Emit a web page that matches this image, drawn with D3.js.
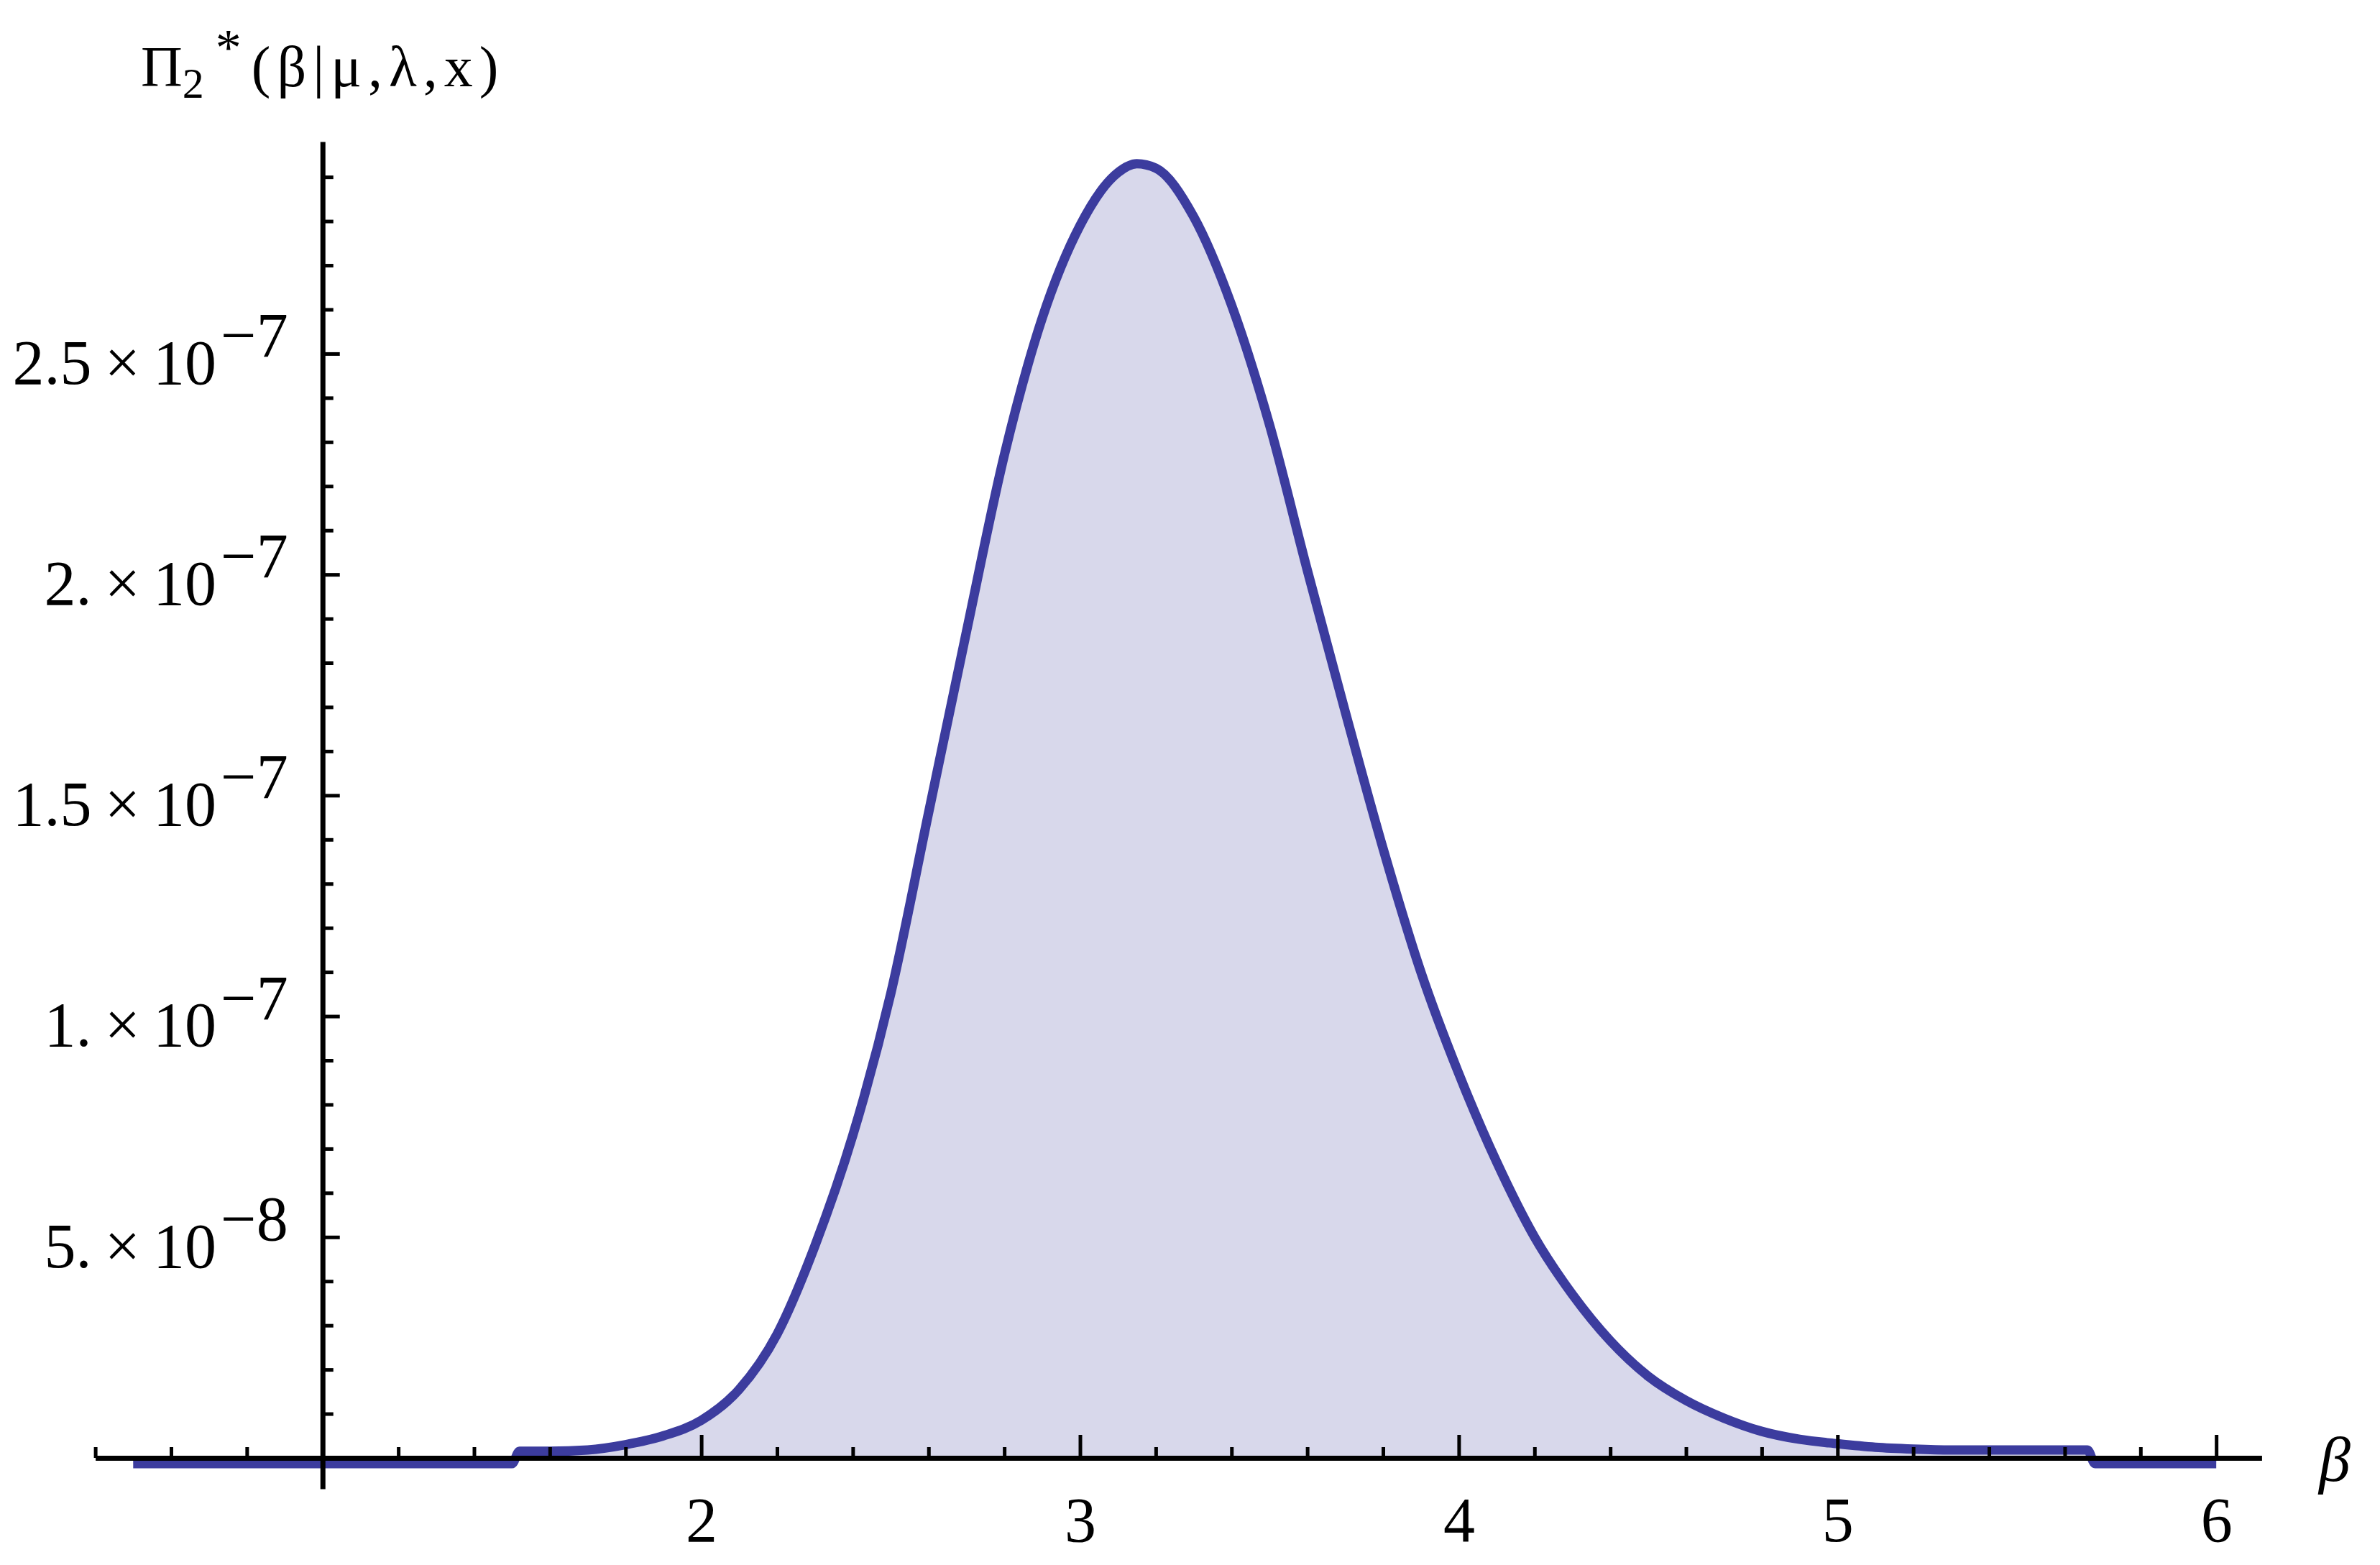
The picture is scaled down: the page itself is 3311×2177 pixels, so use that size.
<!DOCTYPE html>
<html>
<head>
<meta charset="utf-8">
<script src="https://cdn.jsdelivr.net/npm/d3@7"></script>
<style>
  html, body { margin: 0; padding: 0; background: #fff; }
  svg { display: block; }
  text { font-family: "Liberation Serif", "Times New Roman", serif; fill: #000; }
</style>
</head>
<body>
<svg id="chart" width="3311" height="2177"></svg>
<script>
// beta values and posterior density
var betas = [0.5, 0.6, 0.7, 0.8, 0.9, 1.0, 1.1, 1.2, 1.3, 1.4, 1.5, 1.52, 1.6, 1.7, 1.8, 1.9,
  2.0, 2.1, 2.2, 2.3, 2.4, 2.5, 2.6, 2.7, 2.8, 2.9, 3.0, 3.1, 3.15, 3.2, 3.3, 3.4, 3.5,
  3.6, 3.7, 3.8, 3.9, 4.0, 4.1, 4.2, 4.3, 4.4, 4.5, 4.6, 4.7, 4.8, 4.9, 5.0, 5.1, 5.2,
  5.3, 5.4, 5.5, 5.6, 5.66, 5.68, 5.8, 5.9, 6.0];
var density = [-1.3e-9, -1.3e-9, -1.3e-9, -1.3e-9, -1.3e-9, -1.3e-9, -1.3e-9, -1.3e-9, -1.3e-9, -1.3e-9, -1.3e-9, 1.5e-9, 1.5e-9, 1.8e-9, 3.0e-9, 5.0e-9,
  8.5e-9, 1.55e-8, 2.8e-8, 4.8e-8, 7.3e-8, 1.05e-7, 1.46e-7, 1.87e-7, 2.27e-7, 2.58e-7, 2.79e-7, 2.91e-7, 2.93e-7, 2.92e-7, 2.81e-7, 2.61e-7, 2.34e-7,
  2.01e-7, 1.69e-7, 1.38e-7, 1.10e-7, 8.7e-8, 6.7e-8, 5.0e-8, 3.7e-8, 2.65e-8, 1.85e-8, 1.3e-8, 9e-9, 6e-9, 4.2e-9, 3.2e-9, 2.4e-9, 2.0e-9,
  1.8e-9, 1.8e-9, 1.8e-9, 1.8e-9, 1.8e-9, -1.3e-9, -1.3e-9, -1.3e-9, -1.3e-9];

var xMajor = [2, 3, 4, 5, 6];
var xMinor = [0.4, 0.6, 0.8, 1.2, 1.4, 1.6, 1.8, 2.2, 2.4, 2.6, 2.8, 3.2, 3.4, 3.6, 3.8,
  4.2, 4.4, 4.6, 4.8, 5.2, 5.4, 5.6, 5.8];
var xLabels = ["2", "3", "4", "5", "6"];

var yMajor = [5e-8, 1e-7, 1.5e-7, 2e-7, 2.5e-7];
var yMinor = [1e-8, 2e-8, 3e-8, 4e-8, 6e-8, 7e-8, 8e-8, 9e-8, 1.1e-7, 1.2e-7, 1.3e-7, 1.4e-7,
  1.6e-7, 1.7e-7, 1.8e-7, 1.9e-7, 2.1e-7, 2.2e-7, 2.3e-7, 2.4e-7, 2.6e-7, 2.7e-7, 2.8e-7, 2.9e-7];
var yMantissa = ["5.", "1.", "1.5", "2.", "2.5"];
var yExponent = ["\u22128", "\u22127", "\u22127", "\u22127", "\u22127"];

var data = betas.map((b, i) => ({beta: b, p: density[i]}));

var svg = d3.select("#chart");
var fontSize = 88;

var x = d3.scaleLinear().domain([0.4, 6.12]).range([132.6, 3146.4]);
var y = d3.scaleLinear().domain([-7e-9, 2.98e-7]).range([2071, 197]);

var curveColor = "#3c3c9e";

// filled area down to the axis
var area = d3.area()
  .curve(d3.curveMonotoneX)
  .x(d => x(d.beta))
  .y0(y(0))
  .y1(d => y(d.p));

var line = d3.line()
  .curve(d3.curveMonotoneX)
  .x(d => x(d.beta))
  .y(d => y(d.p));

svg.append("path")
  .datum(data)
  .attr("d", area)
  .attr("fill", "#d8d8eb");

svg.append("path")
  .datum(data)
  .attr("d", line)
  .attr("fill", "none")
  .attr("stroke", curveColor)
  .attr("stroke-width", 13)
  .attr("stroke-linejoin", "round");

// x axis: minor ticks then major ticks with labels
var xMinorAxis = svg.append("g")
  .attr("transform", "translate(0," + y(0) + ")")
  .call(d3.axisBottom(x).tickValues(xMinor).tickFormat("").tickSizeInner(-15).tickSizeOuter(0));
xMinorAxis.select(".domain").remove();

var xAxis = svg.append("g")
  .attr("transform", "translate(0," + y(0) + ")")
  .call(d3.axisBottom(x).tickValues(xMajor).tickFormat((d, i) => xLabels[i])
    .tickSizeInner(-32).tickSizeOuter(0).tickPadding(54));

// y axis at beta = 1
var yMinorAxis = svg.append("g")
  .attr("transform", "translate(" + x(1) + ",0)")
  .call(d3.axisLeft(y).tickValues(yMinor).tickFormat("").tickSizeInner(-15).tickSizeOuter(0));
yMinorAxis.select(".domain").remove();

var yAxis = svg.append("g")
  .attr("transform", "translate(" + x(1) + ",0)")
  .call(d3.axisLeft(y).tickValues(yMajor).tickFormat("").tickSizeInner(-24).tickSizeOuter(0).tickPadding(48));

// mantissa x 10 with a raised exponent
yAxis.selectAll(".tick text").each(function(d, i) {
  var t = d3.select(this).attr("dy", "0.47em");
  t.append("tspan").text(yMantissa[i]);
  t.append("tspan").attr("dx", 18).text("\u00d7");
  t.append("tspan").attr("dx", 18).text("10");
  t.append("tspan").attr("dx", 6).attr("dy", "-0.43em").text(yExponent[i]);
});

svg.selectAll(".domain").attr("stroke", "#000").attr("stroke-width", 7);
svg.selectAll(".tick line").attr("stroke", "#000").attr("stroke-width", 5);
svg.selectAll(".tick text")
  .attr("font-family", "Liberation Serif, Times New Roman, serif")
  .attr("font-size", fontSize)
  .attr("fill", "#000");

// axis labels
svg.append("text")
  .attr("x", 3248)
  .attr("y", 2060)
  .attr("text-anchor", "middle")
  .attr("font-size", fontSize)
  .attr("font-style", "italic")
  .text("\u03b2");

var title = svg.append("text")
  .attr("x", 196)
  .attr("y", 120)
  .attr("font-size", 80);
title.append("tspan").text("\u03a0");
title.append("tspan").attr("font-size", 60).attr("dy", 16).text("2");
title.append("tspan").attr("font-size", 72).attr("dy", -46).attr("dx", 16).text("*");
title.append("tspan").attr("dy", 30).attr("dx", 14).attr("letter-spacing", 9).text("(\u03b2|\u03bc,\u03bb,x)");
</script>
</body>
</html>
